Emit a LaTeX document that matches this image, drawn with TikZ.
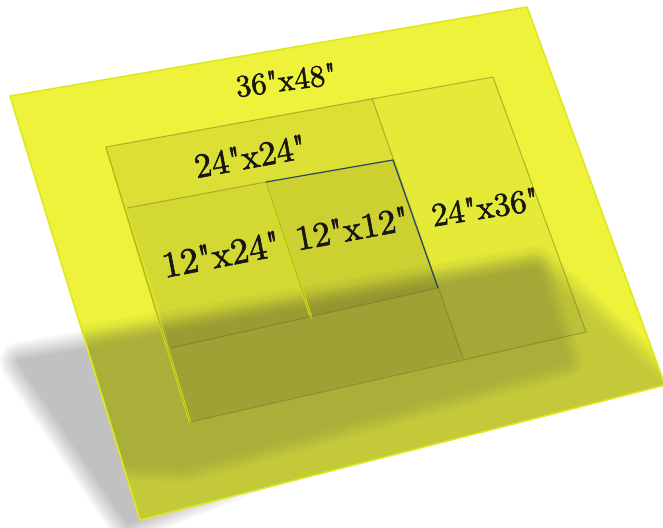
\documentclass[tikz,border=0pt]{standalone}
\font\fA="[lmroman10-regular]:embolden=1.6" at 31pt
\font\fB="[lmroman10-regular]:embolden=1.6" at 34.5pt
\font\fC="[lmroman10-regular]:embolden=1.6" at 36.5pt
\font\fD="[lmroman10-regular]:embolden=1.6" at 35pt
\font\fE="[lmroman10-regular]:embolden=1.6" at 33pt
\definecolor{sheetY}{RGB}{238,242,58}
\definecolor{shadeO}{RGB}{140,145,60}
\definecolor{edgeO}{RGB}{110,116,30}
\definecolor{rimY}{RGB}{222,232,30}
\definecolor{blueE}{RGB}{40,70,95}
\definecolor{txt}{RGB}{22,22,18}
\tikzset{
  innerfill/.style={fill=black, fill opacity=0.035},
  edgeline/.style={draw=edgeO, draw opacity=0.45, line width=1.1pt, line join=round},
  rimline/.style={draw=rimY, line width=2.4pt, line cap=round},
  blueline/.style={draw=blueE, line width=1.2pt, line join=round},
  lbl/.style={text=txt, inner sep=0pt},
}
\begin{document}
\begin{tikzpicture}[x=1pt,y=-1pt]
\useasboundingbox (0,0) rectangle (663,527);
% sheet corners
\coordinate (S1) at (10,96);
\coordinate (S2) at (527,7);
\coordinate (S3) at (665,385);
\coordinate (S4) at (140,520);
% big 24x36 rectangle
\coordinate (A1) at (106,147);
\coordinate (A2) at (493,77);
\coordinate (A3) at (586,332);
\coordinate (A4) at (190,422);
% divider
\coordinate (D1) at (372,98);
\coordinate (D2) at (463,358);
% 12-strip
\coordinate (B1) at (127,208);
\coordinate (B2) at (266,182);
\coordinate (B3) at (393,160);
\coordinate (B4) at (438,288);
\coordinate (B5) at (311,317);
\coordinate (B6) at (171,348);

% ground shadow outside the sheet (left side)
\foreach \w in {40,36,...,4} {
  \begin{scope}[transparency group, opacity=0.026]
    \filldraw[black, line width=\w pt, line join=round]
      (20,362) -- (520,275) -- (560,350) -- (128,522) -- cycle;
  \end{scope}
}

% the sheet
\fill[sheetY] (S1) -- (S2) -- (S3) -- (S4) -- cycle;

\begin{scope}
  \clip (S1) -- (S2) -- (S3) -- (S4) -- cycle;
  % broad shading of the lower part of the sheet
  \foreach \w in {44,40,...,4} {
    \begin{scope}[transparency group, opacity=0.045]
      \filldraw[shadeO, line width=\w pt, line join=round]
        (0,362) -- (535,268) -- (700,420) -- (150,560) -- cycle;
    \end{scope}
  }
  % core shadow
  \foreach \w in {36,32,...,4} {
    \begin{scope}[transparency group, opacity=0.055]
      \filldraw[shadeO, line width=\w pt, line join=round]
        (10,365) -- (535,272) -- (565,360) -- (185,465) -- (120,462) -- cycle;
    \end{scope}
  }
\end{scope}

% sheet rim
\draw[draw=rimY, line width=1.6pt, line join=round] (S1) -- (S2) -- (S3) -- (S4) -- cycle;

% inner sheets
\path[innerfill] (A1) -- (A2) -- (A3) -- (A4) -- cycle;
\path[innerfill] (A1) -- (D1) -- (D2) -- (A4) -- cycle;
\path[innerfill] (B1) -- (B3) -- (B4) -- (B6) -- cycle;
\path[innerfill] (B2) -- (B3) -- (B4) -- (B5) -- cycle;

% bright left rims
\draw[rimline] (A1) -- (A4);
\draw[rimline] (B2) -- (B5);

% edges
\draw[edgeline] (A1) -- (A2) -- (A3) -- (A4) -- cycle;
\draw[edgeline] (D1) -- (D2);
\draw[edgeline] (B1) -- (B2);
\draw[edgeline] (B2) -- (B5);
\draw[edgeline] (B6) -- (B4);
\draw[blueline] (B2) -- (B3) -- (B4);

% labels
\node[lbl, rotate=7.5, font=\fA] (t1) at (286,80) {36"x48"};
\node[lbl, rotate=10.5, font=\fB] (t2) at (250,156) {24"x24"};
\node[lbl, rotate=11, font=\fC] (t3) at (221,254) {12"x24"};
\node[lbl, rotate=10.5, font=\fD] (t4) at (352,228) {12"x12"};
\node[lbl, rotate=9, font=\fE] (t5) at (485,207) {24"x36"};
\end{tikzpicture}
\end{document}
